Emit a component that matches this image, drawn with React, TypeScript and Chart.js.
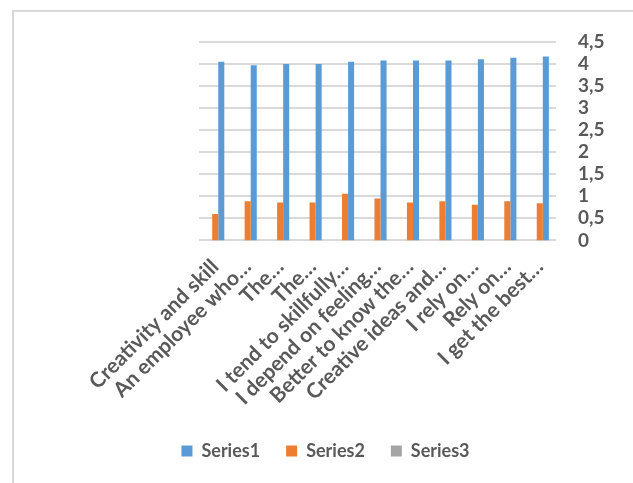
import React, { useEffect, useRef } from "react";
import { Chart, registerables } from "chart.js";

Chart.register(...registerables);

const categories = [
  "Creativity and skill",
  "An employee who…",
  "The…",
  "The…",
  "I tend to skillfully…",
  "I depend on feeling…",
  "Better to know the…",
  "Creative ideas and…",
  "I rely on…",
  "Rely on…",
  "I get the best…",
];

const series1 = [4.05, 3.97, 4.0, 4.0, 4.05, 4.08, 4.08, 4.08, 4.11, 4.14, 4.17];
const series2 = [0.6, 0.89, 0.86, 0.86, 1.06, 0.95, 0.86, 0.89, 0.81, 0.89, 0.84];
const series3 = [0, 0, 0, 0, 0, 0, 0, 0, 0, 0, 0];

const yMin = 0;
const yMax = 4.5;
const yStep = 0.5;

export default function App() {
  const ref = useRef<HTMLCanvasElement | null>(null);

  useEffect(() => {
    document.body.style.margin = "0";
    const ctx = ref.current;
    if (!ctx) return;
    const font = "Lato, 'Open Sans', sans-serif";
    const chart = new Chart(ctx, {
      type: "bar",
      data: {
        labels: categories,
        datasets: [
          { label: "Series3", data: series3, backgroundColor: "#a5a5a5" },
          { label: "Series2", data: series2, backgroundColor: "#ed7d31" },
          { label: "Series1", data: series1, backgroundColor: "#5b9bd5" },
        ],
      },
      options: {
        animation: false,
        responsive: false,
        maintainAspectRatio: false,
        datasets: { bar: { barPercentage: 1, categoryPercentage: 0.56 } },
        layout: { padding: { left: 18, right: 0, top: 42, bottom: 13 } },
        plugins: {
          tooltip: { enabled: false },
          legend: {
            position: "bottom",
            reverse: true,
            labels: {
              boxWidth: 11,
              boxHeight: 11,
              padding: 26,
              color: "#595959",
              font: { family: font, size: 18, weight: "bold" },
            },
          },
        },
        scales: {
          x: {
            grid: { display: false },
            border: { display: false },
            ticks: {
              minRotation: 45,
              maxRotation: 45,
              autoSkip: false,
              color: "#595959",
              padding: 6,
              font: { family: font, size: 21, weight: "bold" },
            },
          },
          spacer: {
            type: "linear",
            position: "left",
            display: true,
            grid: { display: false },
            border: { display: false },
            ticks: { display: false },
            afterFit: (s: any) => {
              s.width = 181;
            },
          },
          y: {
            position: "right",
            min: yMin,
            max: yMax,
            grid: { color: "#d9d9d9", lineWidth: 2, drawTicks: false },
            border: { display: false },
            afterFit: (s: any) => {
              s.width = 77;
            },
            ticks: {
              stepSize: yStep,
              autoSkip: false,
              color: "#595959",
              padding: 22,
              font: { family: font, size: 19, weight: "bold" },
              callback: (v: any) => String(v).replace(".", ","),
            },
          },
        },
      },
    });
    return () => chart.destroy();
  }, []);

  return (
    <div style={{ position: "absolute", left: 0, top: 0, width: 633, height: 483, background: "#fff", overflow: "hidden" }}>
      <div
        style={{
          position: "absolute",
          left: 12,
          top: 10,
          width: 640,
          height: 500,
          border: "2px solid #d9d9d9",
          boxSizing: "border-box",
        }}
      />
      <canvas ref={ref} width={633} height={483} style={{ position: "absolute", left: 0, top: 0 }} />
    </div>
  );
}
